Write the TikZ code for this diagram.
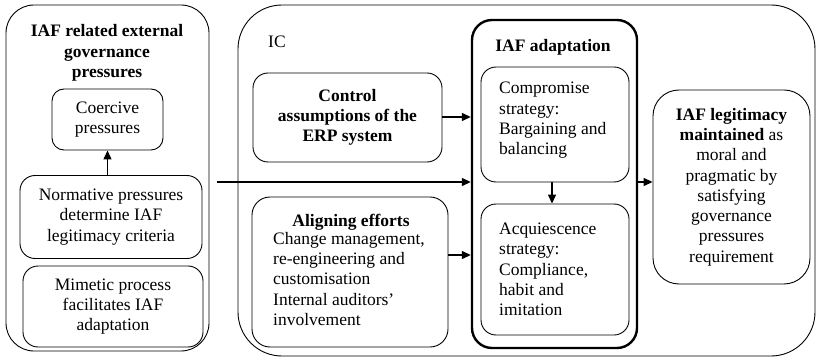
\documentclass[tikz,border=0pt]{standalone}
\usepackage{fontspec}
\setmainfont{Liberation Serif}
\usetikzlibrary{arrows.meta}
\newcommand\diagfont{\fontsize{17.5}{20.3}\selectfont}
\begin{document}
\begin{tikzpicture}[x=1pt,y=-1pt,
  font=\diagfont,
  box/.style={draw,line width=0.9pt,rounded corners=#1,inner sep=0pt,align=center},
  box/.default=14pt,
  txt/.style={inner sep=0pt,align=left,anchor=west},
  arr/.style={line width=1.3pt,-{Triangle[length=9pt,width=8pt]}}]
\useasboundingbox (0,0) rectangle (816,358);

% external governance pressures
\node[box=28pt,minimum width=203pt,minimum height=346pt] (outerL) at (107.5,178) {};
\node[align=center,inner sep=0pt,font=\diagfont\bfseries] (outerLt) at (107,53)
  {IAF related external\\governance\\pressures};
\node[box=12pt,minimum width=111pt,minimum height=61pt] (coer) at (107.5,119.5)
  {Coercive\\pressures};
\node[box=15pt,minimum width=182pt,minimum height=83pt] (norm) at (111,217)
  {Normative pressures\\determine IAF\\legitimacy criteria};
\node[box=15pt,minimum width=180pt,minimum height=81pt] (mime) at (113,306.5)
  {Mimetic process\\facilitates IAF\\adaptation};

% IC container
\node[box=44pt,minimum width=577pt,minimum height=351pt] (ic) at (526.5,180.5) {};
\node[txt] (iclabel) at (268,42) {IC};

\node[box=15pt,minimum width=189pt,minimum height=89pt,font=\diagfont\bfseries] (ctrl) at (347.5,117.5)
  {Control\\assumptions of the\\ERP system};
\node[box=18pt,minimum width=196pt,minimum height=150pt] (align) at (350,272) {};
\node[inner sep=0pt,font=\diagfont\bfseries] (alignt) at (351,222) {Aligning efforts};
\node[txt,anchor=north west] (alignb) at (273,232)
  {Change management,\\re-engineering and\\customisation\\Internal auditors'\\involvement};

% IAF adaptation
\node[box=20pt,line width=2.4pt,minimum width=165pt,minimum height=328pt] (adapt) at (554.5,184) {};
\node[inner sep=0pt,font=\diagfont\bfseries] (adaptt) at (553,47) {IAF adaptation};
\node[box=15pt,minimum width=148pt,minimum height=115pt] (comp) at (555,124.5) {};
\node[txt] (compt) at (499,120.5) {Compromise\\strategy:\\Bargaining and\\balancing};
\node[box=15pt,minimum width=148pt,minimum height=131pt] (acq) at (555,269.5) {};
\node[txt] (acqt) at (499,269.5) {Acquiescence\\strategy:\\Compliance,\\habit and\\imitation};

% outcome
\node[box=26pt,minimum width=157pt,minimum height=194pt] (legit) at (731.5,187)
  {\textbf{IAF legitimacy}\\\textbf{maintained} as\\moral and\\pragmatic by\\satisfying\\governance\\pressures\\requirement};

% connectors
\coordinate (lstart) at (217,182);
\draw[arr] (norm.north -| coer.south) -- (coer.south);
\draw[arr] (lstart) -- (adapt.west |- lstart);
\draw[arr] (ctrl.east |- 0,117) -- (adapt.west |- 0,117);
\draw[arr] (align.east |- 0,255) -- (adapt.west |- 0,255);
\draw[arr] (adapt.east |- lstart) -- (legit.west |- lstart);
\draw[arr] (comp.south -| 552,0) -- (acq.north -| 552,0);
\end{tikzpicture}
\end{document}
